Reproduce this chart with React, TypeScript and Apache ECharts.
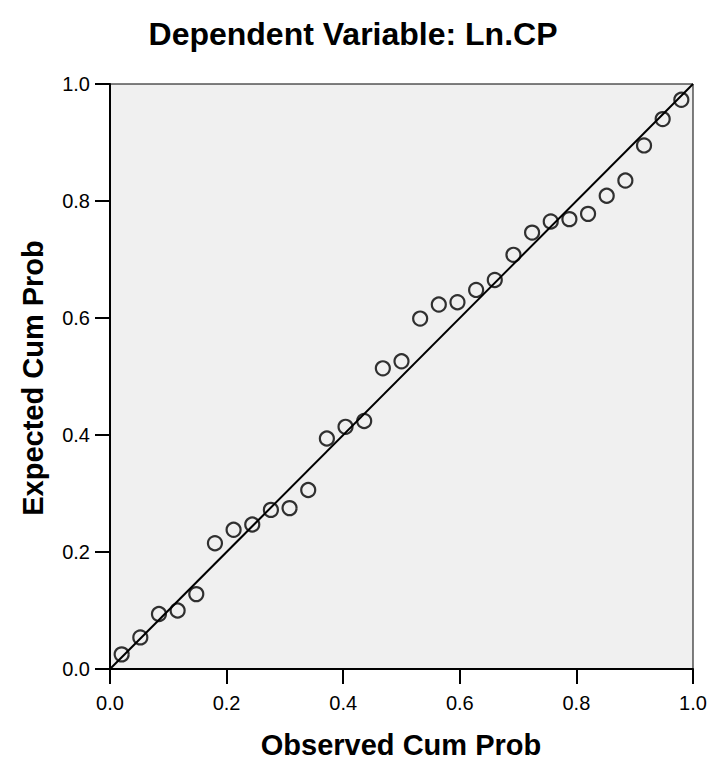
import React, { useEffect, useRef } from "react";
import * as echarts from "echarts";

const titleText = "Dependent Variable: Ln.CP";
const xAxisTitle = "Observed Cum Prob";
const yAxisTitle = "Expected Cum Prob";

const observedCumProb = [
  0.020, 0.052, 0.084, 0.116, 0.148, 0.180, 0.212, 0.244, 0.276, 0.308, 0.340,
  0.372, 0.404, 0.436, 0.468, 0.500, 0.532, 0.564, 0.596, 0.628, 0.660, 0.692,
  0.724, 0.756, 0.788, 0.820, 0.852, 0.884, 0.916, 0.948, 0.980,
];
const expectedCumProb = [
  0.025, 0.054, 0.094, 0.100, 0.128, 0.215, 0.238, 0.247, 0.272, 0.275, 0.306,
  0.394, 0.414, 0.424, 0.514, 0.526, 0.599, 0.623, 0.627, 0.648, 0.665, 0.708,
  0.746, 0.765, 0.769, 0.778, 0.809, 0.835, 0.895, 0.940, 0.973,
];
const referenceLine = [
  [0, 0],
  [1, 1],
];

const FONT = "Arial, 'Liberation Sans', Helvetica, sans-serif";

export default function App() {
  const ref = useRef<HTMLDivElement>(null);
  useEffect(() => {
    document.body.style.margin = "0";
    const chart = echarts.init(ref.current!, null, { renderer: "svg" });
    const points = observedCumProb.map((x, i) => [x, expectedCumProb[i]]);
    const axisCommon = {
      type: "value" as const,
      min: 0,
      max: 1,
      interval: 0.2,
      splitLine: { show: false },
      axisLine: { show: true, onZero: false, lineStyle: { color: "#000", width: 2 } },
      axisTick: { show: true, length: 15, lineStyle: { color: "#000", width: 2 } },
      axisLabel: {
        color: "#000",
        fontSize: 20,
        fontFamily: FONT,
        showMinLabel: true,
        showMaxLabel: true,
        formatter: (v: number) => v.toFixed(1),
      },
    };
    chart.setOption({
      animation: false,
      backgroundColor: "#fff",
      grid: {
        left: 110,
        right: 24,
        top: 84,
        bottom: 93,
        show: true,
        backgroundColor: "#f0f0f0",
        borderColor: "#000",
        borderWidth: 1,
      },
      xAxis: { ...axisCommon, axisLabel: { ...axisCommon.axisLabel, margin: 24 } },
      yAxis: { ...axisCommon, axisLabel: { ...axisCommon.axisLabel, margin: 20 } },
      graphic: [
        {
          type: "text",
          x: 353,
          y: 34,
          style: {
            text: titleText,
            font: `bold 32px ${FONT}`,
            fill: "#000",
            textAlign: "center",
            textVerticalAlign: "middle",
          },
        },
        {
          type: "text",
          x: 401,
          y: 745,
          style: {
            text: xAxisTitle,
            font: `bold 29px ${FONT}`,
            fill: "#000",
            textAlign: "center",
            textVerticalAlign: "middle",
          },
        },
        {
          type: "text",
          x: 33,
          y: 378,
          rotation: Math.PI / 2,
          style: {
            text: yAxisTitle,
            font: `bold 29px ${FONT}`,
            fill: "#000",
            textAlign: "center",
            textVerticalAlign: "middle",
          },
        },
      ],
      series: [
        {
          type: "line",
          data: referenceLine,
          symbol: "none",
          lineStyle: { color: "#000", width: 2 },
          z: 2,
        },
        {
          type: "scatter",
          data: points,
          symbol: "circle",
          symbolSize: 14,
          itemStyle: { color: "rgba(0,0,0,0)", borderColor: "#000", borderWidth: 2.2 },
          z: 3,
        },
      ],
    });
    return () => chart.dispose();
  }, []);
  return (
    <div
      ref={ref}
      style={{ position: "absolute", left: 0, top: 0, width: 717, height: 762 }}
    />
  );
}
